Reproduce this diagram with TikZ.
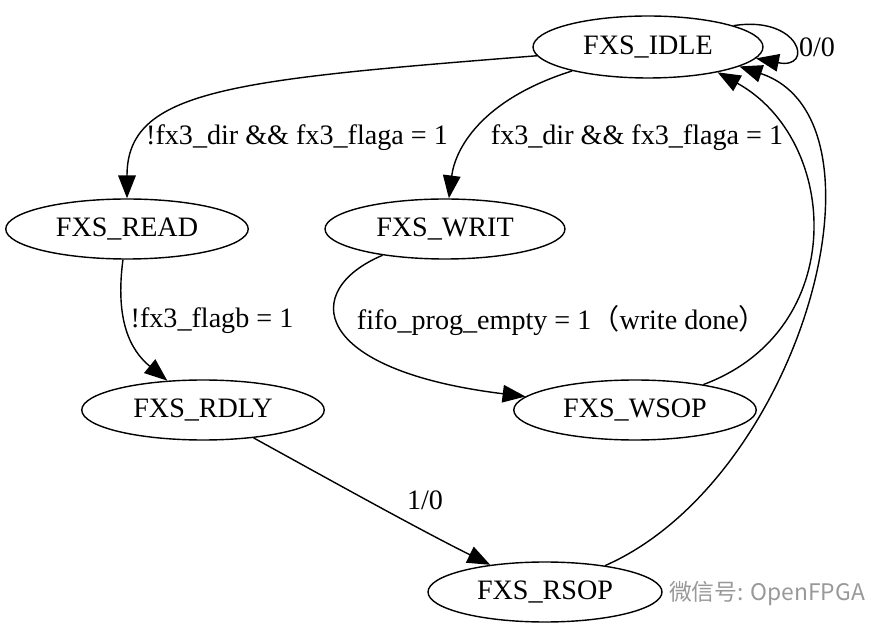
\documentclass[tikz,border=0pt]{standalone}
\usepackage{fontspec}
\setmainfont{Liberation Serif}
\newfontfamily\cjk{Noto Sans CJK SC}
\usetikzlibrary{shapes.geometric, arrows.meta}
\tikzset{state/.style = {draw, ellipse, thick, inner sep = 0, minimum width = 4.85cm, minimum height = 1.2cm, font = \fontsize{16}{18}\selectfont},
  edge/.style = {draw, thick, -{Triangle[length = 13pt, width = 10pt]}},
  lbl/.style = {font = \fontsize{16}{18}\selectfont}}

\begin{document}
\begin{tikzpicture}[x = 0.02cm, y = -0.02cm]
    \useasboundingbox (0, 0) rectangle (872, 634);

    \node [state, minimum width = 4.6cm, minimum height = 1.24cm] (idle) at (648, 47) {FXS\_IDLE};
    \node [state] (read) at (127, 229) {FXS\_READ};
    \node [state, minimum width = 4.8cm] (writ) at (445, 229) {FXS\_WRIT};
    \node [state] (rdly) at (203, 410) {FXS\_RDLY};
    \node [state] (wsop) at (635, 410) {FXS\_WSOP};
    \node [state, minimum width = 4.68cm] (rsop) at (545, 592) {FXS\_RSOP};

    \draw [edge] (idle) .. controls (230, 80) and (127, 90) .. (read);
    \draw [edge] (idle) .. controls (480, 100) and (455, 150) .. (writ);
    \draw [edge] (idle.14) .. controls (800, 15) and (815, 70) .. (idle.-6);
    \draw [edge] (read) .. controls (115, 320) and (130, 350) .. (rdly);
    \draw [edge] (writ) .. controls (300, 290) and (310, 370) .. (wsop);
    \draw [edge] (rdly) .. controls (330, 480) and (420, 530) .. (rsop);
    \draw [edge] (wsop) .. controls (850, 330) and (840, 140) .. (idle.-20);
    \draw [edge] (rsop) .. controls (800, 480) and (900, 120) .. (idle.-12);

    \node [lbl] (l1) at (297, 138) {!fx3\_dir \&\& fx3\_flaga = 1};
    \node [lbl] (l2) at (637, 138) {fx3\_dir \&\& fx3\_flaga = 1};
    \node [lbl] (l3) at (817, 47) {0/0};
    \node [lbl] (l4) at (212, 321) {!fx3\_flagb = 1};
    \node [lbl] (l5) at (562, 321) {fifo\_prog\_empty = 1{\cjk （}write done{\cjk ）}};
    \node [lbl] (l6) at (425, 500) {1/0};

    \node [text = gray!80, font = \cjk\fontsize{13}{15}\selectfont] (mark) at (767, 594) {微信号: OpenFPGA};
  \end{tikzpicture}
\end{document}
